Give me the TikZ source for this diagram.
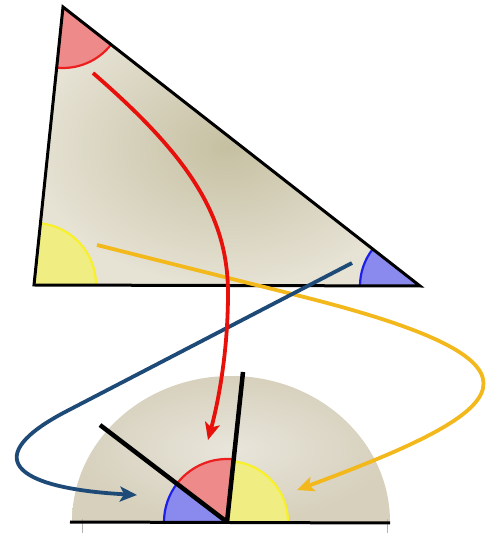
\documentclass[tikz,border=0pt]{standalone}
\usetikzlibrary{arrows.meta,calc}
\definecolor{tridark}{RGB}{198,192,162}
\definecolor{trilight}{RGB}{230,226,212}
\definecolor{semidark}{RGB}{214,208,188}
\definecolor{semilight}{RGB}{232,229,219}
\definecolor{redfill}{RGB}{238,138,138}
\definecolor{redline}{RGB}{236,30,30}
\definecolor{yelfill}{RGB}{240,238,130}
\definecolor{yelline}{RGB}{248,240,40}
\definecolor{bluefill}{RGB}{138,138,238}
\definecolor{blueline}{RGB}{30,30,235}
\definecolor{arrred}{RGB}{232,16,10}
\definecolor{arryel}{RGB}{242,184,28}
\definecolor{arrblue}{RGB}{30,74,120}
\tikzset{
  edge/.style={line width=3pt,line join=miter},
  ray/.style={line width=4.5pt,line cap=butt},
  wedgeline/.style={line width=2.2pt},
  mover/.style={line width=3.8pt,-{Stealth[length=17pt,width=15pt,inset=4pt]}},
}
\begin{document}
\begin{tikzpicture}[x=1pt,y=1pt]
\useasboundingbox (0,0) rectangle (491,533);
% ---------- triangle ----------
\coordinate (A) at (63,526);
\coordinate (B) at (34,248);
\coordinate (C) at (420,247);
\shade[inner color=tridark,outer color=trilight] (A) -- (B) -- (C) -- cycle;
% angle wedges in the triangle
\fill[redfill] (A) -- ++(264:61) arc[start angle=264,end angle=322,radius=61] -- cycle;
\draw[wedgeline,redline] ($(A)+(264:61)$) arc[start angle=264,end angle=322,radius=61];
\fill[yelfill] (B) -- ++(0:62) arc[start angle=0,end angle=84,radius=62] -- cycle;
\draw[wedgeline,yelline] ($(B)+(0:62)$) arc[start angle=0,end angle=84,radius=62];
\fill[bluefill] (C) -- ++(142:60) arc[start angle=142,end angle=180,radius=60] -- cycle;
\draw[wedgeline,blueline] ($(C)+(142:60)$) arc[start angle=142,end angle=180,radius=60];
\draw[edge] (A) -- (B) -- (C) -- cycle;
% ---------- half disc ----------
\coordinate (O) at (227,11);
\coordinate (E1) at (72,11);
\shade[inner color=semilight,outer color=semidark] (E1) arc[start angle=180,end angle=0,x radius=159,y radius=146] -- cycle;
\draw[gray!60,line width=0.6pt] (82,0) -- (82,14);
\draw[gray!60,line width=0.6pt] (387,0) -- (387,14);
\fill[yelfill] (O) -- ++(0:61) arc[start angle=0,end angle=84,radius=61] -- cycle;
\draw[wedgeline,yelline] ($(O)+(0:61)$) arc[start angle=0,end angle=84,radius=61];
\fill[redfill] (O) -- ++(84:63) arc[start angle=84,end angle=142,radius=63] -- cycle;
\draw[wedgeline,redline] ($(O)+(84:63)$) arc[start angle=84,end angle=142,radius=63];
\fill[bluefill] (O) -- ++(142:63) arc[start angle=142,end angle=180,radius=63] -- cycle;
\draw[wedgeline,blueline] ($(O)+(142:63)$) arc[start angle=142,end angle=180,radius=63];
\coordinate (L1) at (70,11);
\coordinate (L2) at (390,10);
\coordinate (R1) at (243,161);
\coordinate (R2) at (100,108);
\draw[edge] (L1) -- (L2);
\draw[ray] (O) -- (R1);
\draw[ray] (O) -- (R2);
% ---------- arrows ----------
\coordinate (ys) at (97,288);
\coordinate (yp) at (300,237);
\coordinate (yt) at (297,43);
\draw[mover,arryel] (ys) -- (yp) .. controls (575,168) and (510,122) .. (yt);
\coordinate (bs) at (352,270);
\coordinate (bp) at (67,122);
\coordinate (bt) at (137,38);
\draw[mover,arrblue] (bs) -- (bp) .. controls (-20,77) and (10,45) .. (bt);
\coordinate (rs) at (93,460);
\coordinate (rm) at (228,240);
\coordinate (rt) at (208,93);
\draw[mover,arrred] (rs) .. controls (185,380) and (228,320) .. (rm) .. controls (228,180) and (218,130) .. (rt);
\end{tikzpicture}
\end{document}
